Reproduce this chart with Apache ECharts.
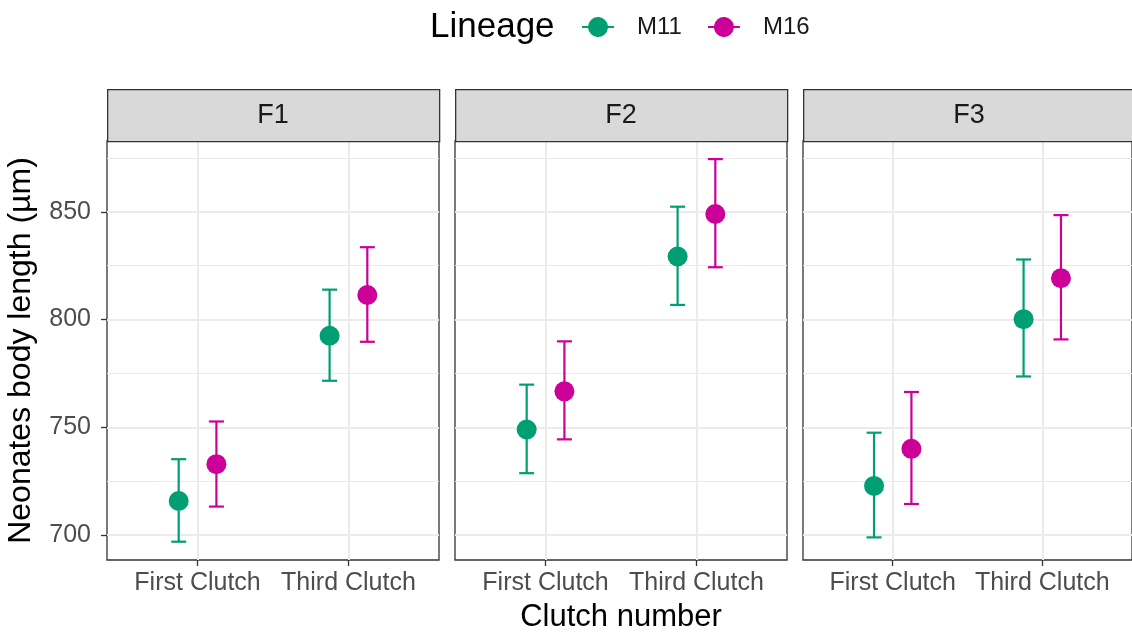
<!DOCTYPE html>
<html>
<head>
<meta charset="utf-8">
<script src="https://cdn.jsdelivr.net/npm/echarts@6/dist/echarts.min.js"></script>
<style>html,body{margin:0;padding:0;background:#fff}#c{width:1132px;height:632px}</style>
</head>
<body>
<div id="c"></div>
<script>
// ---- data ----
const facets = ['F1', 'F2', 'F3'];
const clutches = ['First Clutch', 'Third Clutch'];
const lineages = ['M11', 'M16'];
// values per facet: [First Clutch, Third Clutch]
const m11Mean  = [[715.8, 792.5], [749.0, 829.3], [722.8, 800.2]];
const m11Lower = [[696.9, 771.6], [728.7, 806.8], [698.9, 773.6]];
const m11Upper = [[735.2, 813.9], [769.8, 852.4], [747.5, 827.9]];
const m16Mean  = [[732.9, 811.4], [766.7, 849.0], [740.0, 819.2]];
const m16Lower = [[713.2, 789.7], [744.4, 824.3], [714.4, 790.8]];
const m16Upper = [[752.7, 833.6], [789.9, 874.5], [766.4, 848.5]];
const yTicks = [700, 750, 800, 850];
const yMinorTicks = [725, 775, 825, 875];

// ---- styling / layout ----
const colors = {M11: '#009E73', M16: '#CC0099'};
const yMin = 688.4, yMax = 882.9;
const xMin = 0.4, xMax = 2.6, dodge = 0.125;
const panelLeft = 107, panelStep = 348, panelW = 332, panelTop = 141, panelH = 419;
const stripTop = 89, stripH = 52;
const font = 'Liberation Sans, Arial, sans-serif';

const chart = echarts.init(document.getElementById('c'), null, {renderer: 'canvas'});

const grids = [], xAxes = [], yAxes = [], series = [], graphics = [];
const meanSets = {M11: m11Mean, M16: m16Mean};
const lowSets = {M11: m11Lower, M16: m16Lower};
const upSets = {M11: m11Upper, M16: m16Upper};

facets.forEach((f, i) => {
  const left = panelLeft + i * panelStep;
  grids.push({left: left, top: panelTop, width: panelW, height: panelH,
    show: true, borderColor: '#333333', borderWidth: 1.3, backgroundColor: '#fff', containLabel: false});
  xAxes.push({
    type: 'value', gridIndex: i, min: xMin, max: xMax,
    axisLine: {show: false},
    axisTick: {show: true, customValues: [1, 2], length: 6, lineStyle: {color: '#333333', width: 1.3}},
    axisLabel: {show: true, customValues: [1, 2], margin: 11, color: '#4D4D4D', fontSize: 25, fontFamily: font,
      formatter: v => clutches[Math.round(v) - 1]},
    splitLine: {show: true, lineStyle: {color: '#EBEBEB', width: 2}}
  });
  // major y
  yAxes.push({
    type: 'value', gridIndex: i, min: yMin, max: yMax, position: 'left',
    axisLine: {show: false},
    axisTick: {show: i === 0, customValues: yTicks, length: 6, lineStyle: {color: '#333333', width: 1.3}},
    axisLabel: {show: i === 0, customValues: yTicks, margin: 16, color: '#4D4D4D', fontSize: 25, fontFamily: font},
    splitLine: {show: true, lineStyle: {color: '#EBEBEB', width: 2}},
    name: i === 0 ? 'Neonates body length (µm)' : '',
    nameLocation: 'middle', nameGap: 70,
    nameTextStyle: {fontSize: 32, color: '#000', fontFamily: font}
  });
  // minor y grid
  yAxes.push({
    type: 'value', gridIndex: i, min: yMin, max: yMax, position: 'left', offset: 0,
    axisLine: {show: false},
    axisTick: {show: false, customValues: yMinorTicks},
    axisLabel: {show: false, customValues: yMinorTicks},
    splitLine: {show: true, lineStyle: {color: '#EBEBEB', width: 1}}
  });

  lineages.forEach((lin, k) => {
    const off = k === 0 ? -dodge : dodge;
    const errData = clutches.map((c, j) => [j + 1 + off, lowSets[lin][i][j], upSets[lin][i][j]]);
    const ptData = clutches.map((c, j) => [j + 1 + off, meanSets[lin][i][j]]);
    series.push({
      type: 'custom', name: lin, xAxisIndex: i, yAxisIndex: i * 2,
      itemStyle: {color: colors[lin]},
      encode: {x: 0, y: [1, 2]},
      data: errData,
      z: 3,
      renderItem: (params, api) => {
        const x = api.value(0);
        const pLo = api.coord([x, api.value(1)]);
        const pHi = api.coord([x, api.value(2)]);
        const half = 7.5;
        const st = {stroke: colors[lin], lineWidth: 2.2};
        return {type: 'group', children: [
          {type: 'line', shape: {x1: pLo[0], y1: pLo[1], x2: pHi[0], y2: pHi[1]}, style: st},
          {type: 'line', shape: {x1: pLo[0] - half, y1: pLo[1], x2: pLo[0] + half, y2: pLo[1]}, style: st},
          {type: 'line', shape: {x1: pHi[0] - half, y1: pHi[1], x2: pHi[0] + half, y2: pHi[1]}, style: st}
        ]};
      }
    });
    series.push({
      type: 'scatter', name: lin, xAxisIndex: i, yAxisIndex: i * 2,
      symbol: 'circle', symbolSize: 20, z: 4,
      itemStyle: {color: colors[lin], opacity: 1},
      data: ptData
    });
  });

  // strip
  graphics.push({
    type: 'rect', left: left, top: stripTop, z: 10,
    shape: {width: panelW, height: stripH},
    style: {fill: '#D9D9D9', stroke: '#333333', lineWidth: 1.3}
  });
  graphics.push({
    type: 'text', z: 11,
    style: {x: left + panelW / 2, y: stripTop + stripH / 2 + 1, text: f, fill: '#1A1A1A',
      font: '27px ' + font, align: 'center', verticalAlign: 'middle'}
  });
});

graphics.push({
  type: 'text', z: 11,
  style: {x: 430, y: 27, text: 'Lineage', fill: '#000', font: '35px ' + font, align: 'left', verticalAlign: 'middle'}
});
graphics.push({
  type: 'text', z: 11,
  style: {x: panelLeft + (panelStep * 2 + panelW) / 2, y: 617, text: 'Clutch number', fill: '#000',
    font: '31px ' + font, align: 'center', verticalAlign: 'middle'}
});

const legendIcon = 'path://M0,9 H6.05 A10,10 0 0,1 25.95,9 H32 V11 H25.95 A10,10 0 0,1 6.05,11 H0 Z';

chart.setOption({
  animation: false,
  backgroundColor: '#fff',
  legend: {
    data: lineages, left: 582, top: 15, padding: 0, orient: 'horizontal',
    icon: legendIcon, itemWidth: 32, itemHeight: 20, itemGap: 26,
    textStyle: {fontSize: 24, color: '#1A1A1A', fontFamily: font, padding: [0, 0, 0, 18]}
  },
  grid: grids,
  xAxis: xAxes,
  yAxis: yAxes,
  series: series,
  graphic: graphics
});
</script>
</body>
</html>
